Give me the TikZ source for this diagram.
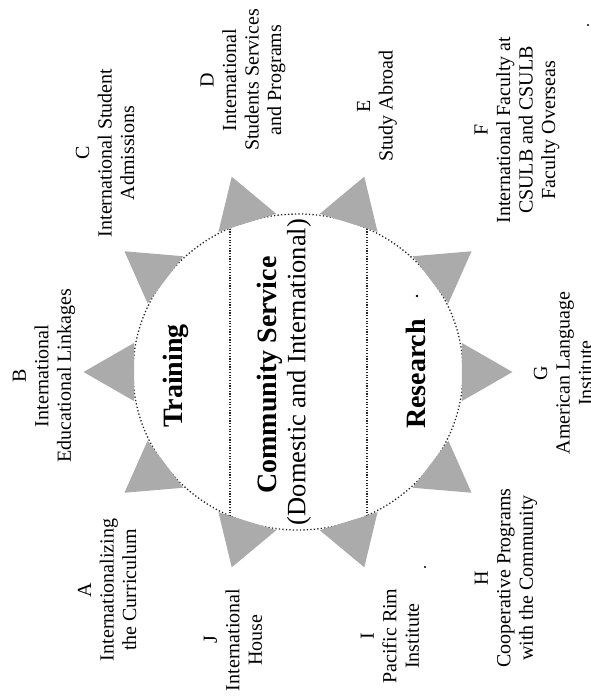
\documentclass[tikz,border=0pt]{standalone}
\usepackage{fontspec}
\setmainfont{Liberation Serif}
\begin{document}
\begin{tikzpicture}[x=1pt,y=-1pt,
  lab/.style={rotate=90, align=center, inner sep=0pt, font=\fontsize{20}{22.5}\selectfont},
  big/.style={rotate=90, inner sep=0pt, font=\fontsize{28}{30}\selectfont\bfseries},
  mid/.style={rotate=90, inner sep=0pt, font=\fontsize{26.5}{30}\selectfont},
  tri/.style={fill=black!33},
  ring/.style={draw=black!85, line width=1.3pt, dash pattern=on 1.3pt off 2.2pt},
  band/.style={draw=black!85, line width=1.2pt, dash pattern=on 1.2pt off 1.5pt},
]
\useasboundingbox (0,0) rectangle (590,697);
\clip (0,0) rectangle (590,697);

% ring
\draw[ring] (298,372) ellipse [x radius=165pt, y radius=158pt];
% band of the middle
\draw[band] (230,226) -- (230,520);
\draw[band] (367,226) -- (367,520);

% triangles
\foreach \a in {144,108,72,36,0,-36,-72,-108,-144,180} {
  \fill[tri] ({298+1.01*165*cos(\a-10.5)},{372-1.01*158*sin(\a-10.5)})
          -- ({298+1.30*165*cos(\a)},{372-1.30*158*sin(\a)})
          -- ({298+1.01*165*cos(\a+10.5)},{372-1.01*158*sin(\a+10.5)}) -- cycle;
}

% central texts
\node[big] (training) at (176,376) {Training};
\node[big] (cs) at (270,375) {Community Service};
\node[mid] (dom) at (299,372) {(Domestic and International)};
\node[big] (research) at (416,374) {Research};

% labels
\node[lab] (la) at (107,590) {A\\International\-izing\\the Curriculum};
\node[lab] (lb) at (44,376) {B\\International\\Educational Linkages};
\node[lab] (lc) at (105,153) {C\\International Student\\Admissions};
\node[lab] (ld) at (243,80) {D\\International\\Students Services\\and Programs};
\node[lab] (le) at (377,106) {E\\Study Abroad};
\node[lab] (lf) at (517,130) {F\\International Faculty at\\CSULB and CSULB\\Faculty Overseas};
\node[lab] (lg) at (563,373) {G\\American Language\\Institute};
\node[lab] (lh) at (506,578) {H\\Cooperative Programs\\with the Community};
\node[lab] (li) at (390,636) {I\\Pacific Rim\\Institute};
\node[lab] (lj) at (233,640) {J\\International\\House};

% specks of the scan
\fill (417,296) circle (1.3pt);
\fill (425,567) circle (1.1pt);
\fill (588,25) circle (1.1pt);
\end{tikzpicture}
\end{document}
